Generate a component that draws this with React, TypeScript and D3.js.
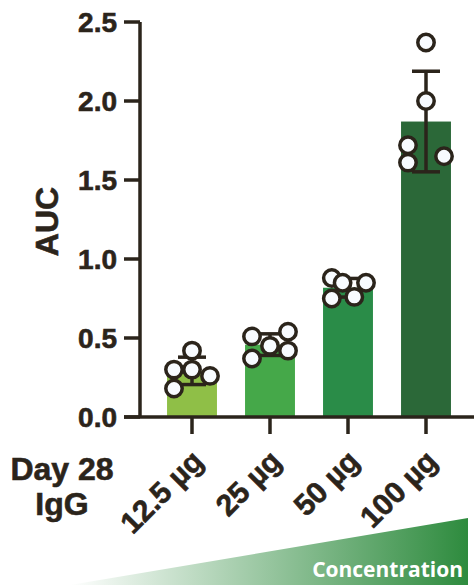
import React from "react";
import * as d3 from "d3";

// doses on the x axis
const doses = ["12.5 µg", "25 µg", "50 µg", "100 µg"];
// individual AUC values per dose (5 animals each)
const auc125 = [0.42, 0.3, 0.3, 0.26, 0.18];
const auc25 = [0.51, 0.54, 0.45, 0.42, 0.37];
const auc50 = [0.88, 0.85, 0.85, 0.75, 0.76];
const auc100 = [2.37, 2.0, 1.72, 1.61, 1.65];
// horizontal scatter of the dots, in dot diameters
const jitter125 = [0, -1, 0, 1, -1];
const jitter25 = [-1, 1, 0, 1, -1];
const jitter50 = [-0.9, -0.3, 1, -0.9, 0.35];
const jitter100 = [0, 0, -1, -1, 1];
const yTicks = [0, 0.5, 1.0, 1.5, 2.0, 2.5];
const barColors = ["#8fbf47", "#45a849", "#2a8c48", "#2b6838"];

const groups = [auc125, auc25, auc50, auc100];
const jitters = [jitter125, jitter25, jitter50, jitter100];

const W = 474;
const H = 585;
const ink = "#2b241b";
const font = "'Liberation Sans', Arial, Helvetica, sans-serif";

export default function App() {
  const x = d3
    .scaleBand()
    .domain(doses)
    .range([153, 465])
    .paddingInner(0.36)
    .paddingOuter(0.18);
  const y = d3.scaleLinear().domain([0, 2.5]).range([417, 22]);
  const axisX = 140;
  const r = 8.2;
  const dotStep = 18;

  // shared style for the dark bold labels
  const label = {
    fontFamily: font,
    fontWeight: "bold",
    fill: ink,
    stroke: ink,
    strokeWidth: 0.6,
  } as const;

  return (
    <div style={{ position: "absolute", left: 0, top: 0 }}>
      <svg width={W} height={H} style={{ display: "block" }}>
        <defs>
          <linearGradient id="conc" x1="0" x2="1" y1="0" y2="0">
            <stop offset="0" stopColor="#2e8b3e" stopOpacity={0} />
            <stop offset="1" stopColor="#2e8b3e" stopOpacity={1} />
          </linearGradient>
        </defs>

        {/* bars */}
        {doses.map((d, i) => {
          const m = d3.mean(groups[i]) as number;
          return (
            <rect
              key={d}
              x={x(d)}
              y={y(m)}
              width={x.bandwidth()}
              height={y(0) - y(m)}
              fill={barColors[i]}
            />
          );
        })}

        {/* error bars (mean ± SD) */}
        {doses.map((d, i) => {
          const m = d3.mean(groups[i]) as number;
          const sd = d3.deviation(groups[i]) as number;
          const cx = (x(d) as number) + x.bandwidth() / 2;
          return (
            <g key={d} stroke={ink} strokeWidth={3.5}>
              <line x1={cx} x2={cx} y1={y(m - sd)} y2={y(m + sd)} />
              <line x1={cx - 14} x2={cx + 14} y1={y(m + sd)} y2={y(m + sd)} />
              <line x1={cx - 14} x2={cx + 14} y1={y(m - sd)} y2={y(m - sd)} />
            </g>
          );
        })}

        {/* dots */}
        {doses.map((d, i) => {
          const cx = (x(d) as number) + x.bandwidth() / 2;
          return groups[i].map((v, j) => (
            <circle
              key={d + j}
              cx={cx + jitters[i][j] * dotStep}
              cy={y(v)}
              r={r}
              fill="#f8fbff"
              stroke={ink}
              strokeWidth={3.5}
            />
          ));
        })}

        {/* y axis */}
        <line x1={axisX} x2={axisX} y1={y(2.5)} y2={y(0)} stroke={ink} strokeWidth={3.5} />
        {yTicks.map((t) => (
          <g key={t}>
            <line x1={124} x2={axisX} y1={y(t)} y2={y(t)} stroke={ink} strokeWidth={3.5} />
            <text x={117} y={y(t) + 9.5} textAnchor="end" fontSize={28} {...label}>
              {d3.format(".1f")(t)}
            </text>
          </g>
        ))}
        <text
          transform={`translate(58,${(y(0) + y(2.5)) / 2 + 2}) rotate(-90)`}
          textAnchor="middle"
          fontSize={32}
          {...label}
        >
          AUC
        </text>

        {/* x axis */}
        <line x1={124} x2={W} y1={y(0)} y2={y(0)} stroke={ink} strokeWidth={3.5} />
        {doses.map((d) => {
          const cx = (x(d) as number) + x.bandwidth() / 2;
          return (
            <g key={d}>
              <line x1={cx} x2={cx} y1={y(0)} y2={434} stroke={ink} strokeWidth={3.5} />
              <text
                transform={`translate(${cx + 13},463) rotate(-45)`}
                textAnchor="end"
                fontSize={30}
                {...label}
              >
                {d}
              </text>
            </g>
          );
        })}

        <text x={62} y={480} textAnchor="middle" fontSize={32} {...label}>
          Day 28
        </text>
        <text x={62} y={515} textAnchor="middle" fontSize={32} {...label}>
          IgG
        </text>

        {/* concentration wedge */}
        <polygon points={`70,585 468,518 468,585`} fill="url(#conc)" />
        <text
          x={463}
          y={577}
          textAnchor="end"
          fontFamily="'Open Sans', sans-serif"
          fontWeight="bold"
          fontSize={21}
          fill="#ffffff"
        >
          Concentration
        </text>
      </svg>
    </div>
  );
}
